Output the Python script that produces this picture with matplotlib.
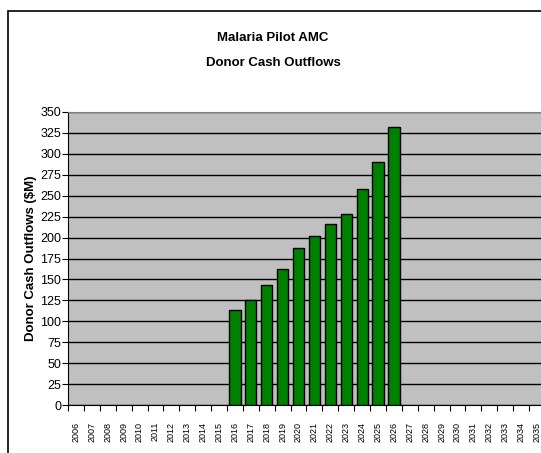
import matplotlib.pyplot as plt
import numpy as np
from matplotlib.patches import Rectangle

years = [str(y) for y in range(2006, 2036)]
outflows = [0, 0, 0, 0, 0, 0, 0, 0, 0, 0,
            113, 126, 143, 163, 187, 202, 216, 228, 258, 290, 332,
            0, 0, 0, 0, 0, 0, 0, 0, 0]

plt.rcParams['font.family'] = ['Liberation Sans', 'DejaVu Sans']

fig = plt.figure(figsize=(5.41, 4.53), dpi=100)

# outer chart border (runs off the right/bottom of the picture)
fig.patches.append(Rectangle((8 / 541, -0.1), 1.2, (453 - 11) / 453 + 0.1,
                             transform=fig.transFigure, fill=False,
                             edgecolor='black', linewidth=1.2))

ax = fig.add_axes([68 / 541, 48 / 453, (545 - 68) / 541, (405 - 112) / 453])
ax.set_facecolor('#C0C0C0')

x = np.arange(len(years))
vals = np.array(outflows, dtype=float)
mask = vals > 0
ax.bar(x[mask], vals[mask], width=0.7, color='#008000', edgecolor='black',
       linewidth=1.0, zorder=3)

ax.set_ylim(0, 350)
ax.set_xlim(-0.5, len(years) - 0.5)
ax.set_yticks(np.arange(0, 351, 25))
ax.yaxis.grid(True, color='black', linewidth=1.0)
ax.set_axisbelow(True)

# labels at category centres, tick marks between categories
ax.set_xticks(np.arange(-0.5, len(years), 1.0))
ax.set_xticklabels([])
ax.set_xticks(x, minor=True)
ax.set_xticklabels(years, minor=True, rotation=90, fontsize=6.5)
ax.tick_params(axis='x', which='minor', length=0, pad=12)
ax.tick_params(axis='x', which='major', length=4, direction='out', color='black')
ax.tick_params(axis='y', length=4, direction='out', labelsize=9, pad=1)

for side in ['top', 'right']:
    ax.spines[side].set_color('#808080')
ax.spines['left'].set_color('black')
ax.spines['bottom'].set_color('black')

ax.set_ylabel('Donor Cash Outflows ($M)', fontsize=9.5, fontweight='bold', labelpad=2)

fig.text(273 / 541, 1 - 38 / 453, 'Malaria Pilot AMC', ha='center', va='center',
         fontsize=9.5, fontweight='bold')
fig.text(273 / 541, 1 - 63 / 453, 'Donor Cash Outflows', ha='center', va='center',
         fontsize=9.5, fontweight='bold')

fig.savefig('out.png', dpi=100)
